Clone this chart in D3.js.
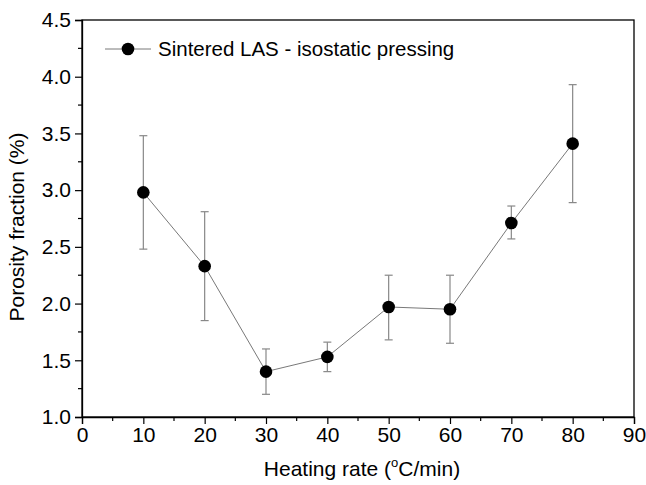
<!DOCTYPE html>
<html>
<head>
<meta charset="utf-8">
<script src="https://cdn.jsdelivr.net/npm/d3@7"></script>
<style>
  body { margin: 0; background: #fff; }
  text { font-family: "Liberation Sans", Arial, sans-serif; fill: #000; }
</style>
</head>
<body>
<svg id="chart" width="646" height="485"></svg>
<script>
// heating rate (°C/min) and porosity fraction (%)
const rates = [10, 20, 30, 40, 50, 60, 70, 80];
const porosity = [2.98, 2.33, 1.40, 1.53, 1.97, 1.95, 2.71, 3.41];
const errLow = [2.48, 1.85, 1.20, 1.40, 1.68, 1.65, 2.57, 2.89];
const errHigh = [3.48, 2.81, 1.60, 1.66, 2.25, 2.25, 2.86, 3.93];
const xTicks = [0, 10, 20, 30, 40, 50, 60, 70, 80, 90];
const yTicks = [1.0, 1.5, 2.0, 2.5, 3.0, 3.5, 4.0, 4.5];

const svg = d3.select("#chart");
const pLeft = 82, pRight = 634, pTop = 20, pBottom = 417;
const fs = "21px";

const x = d3.scaleLinear().domain([0, 90]).range([pLeft, pRight]);
const y = d3.scaleLinear().domain([1.0, 4.5]).range([pBottom, pTop]);

const data = rates.map((r, i) => ({ r: r, p: porosity[i], lo: errLow[i], hi: errHigh[i] }));

// frame
svg.append("rect")
  .attr("x", pLeft).attr("y", pTop)
  .attr("width", pRight - pLeft).attr("height", pBottom - pTop)
  .attr("fill", "none").attr("stroke", "#000").attr("stroke-width", 1.3);

// minor ticks
const xMinor = d3.range(5, 90, 10);
const yMinor = d3.range(1.25, 4.5, 0.5);
svg.append("g").selectAll("line").data(xMinor).join("line")
  .attr("x1", d => x(d)).attr("x2", d => x(d))
  .attr("y1", pBottom).attr("y2", pBottom + 4)
  .attr("stroke", "#000").attr("stroke-width", 1.2);
svg.append("g").selectAll("line").data(yMinor).join("line")
  .attr("x1", pLeft - 4).attr("x2", pLeft)
  .attr("y1", d => y(d)).attr("y2", d => y(d))
  .attr("stroke", "#000").attr("stroke-width", 1.2);

// axes
const xAxis = svg.append("g")
  .attr("transform", "translate(0," + pBottom + ")")
  .call(d3.axisBottom(x).tickValues(xTicks).tickSize(7).tickPadding(3).tickFormat(d3.format("d")));
const yAxis = svg.append("g")
  .attr("transform", "translate(" + pLeft + ",0)")
  .call(d3.axisLeft(y).tickValues(yTicks).tickSize(7).tickPadding(4).tickFormat(d3.format(".1f")));
[xAxis, yAxis].forEach(a => {
  a.attr("font-size", null).attr("font-family", null);
  a.select(".domain").attr("stroke-width", 1.3);
  a.selectAll(".tick line").attr("stroke-width", 1.2);
  a.selectAll("text").style("font-size", fs);
});

// connecting line
svg.append("path").datum(data)
  .attr("fill", "none").attr("stroke", "#555").attr("stroke-width", 0.8)
  .attr("d", d3.line().x(d => x(d.r)).y(d => y(d.p)));

// error bars
const eb = svg.append("g").attr("stroke", "#888").attr("stroke-width", 1.2);
eb.selectAll(".v").data(data).join("line")
  .attr("x1", d => x(d.r)).attr("x2", d => x(d.r))
  .attr("y1", d => y(d.lo)).attr("y2", d => y(d.hi));
eb.selectAll(".t").data(data).join("line")
  .attr("x1", d => x(d.r) - 4).attr("x2", d => x(d.r) + 4)
  .attr("y1", d => y(d.hi)).attr("y2", d => y(d.hi));
eb.selectAll(".b").data(data).join("line")
  .attr("x1", d => x(d.r) - 4).attr("x2", d => x(d.r) + 4)
  .attr("y1", d => y(d.lo)).attr("y2", d => y(d.lo));

// points
svg.append("g").selectAll("circle").data(data).join("circle")
  .attr("cx", d => x(d.r)).attr("cy", d => y(d.p)).attr("r", 6.3)
  .attr("fill", "#000");

// legend
const lg = svg.append("g").attr("transform", "translate(105,49)");
lg.append("line").attr("x1", 0).attr("x2", 46).attr("y1", 0).attr("y2", 0)
  .attr("stroke", "#555").attr("stroke-width", 0.8);
lg.append("circle").attr("cx", 23).attr("cy", 0).attr("r", 6.3).attr("fill", "#000");
lg.append("text").attr("x", 53).attr("y", 7).style("font-size", "20.5px")
  .text("Sintered LAS - isostatic pressing");

// axis titles
const xt = svg.append("text").attr("x", 362).attr("y", 476)
  .attr("text-anchor", "middle").style("font-size", fs);
xt.append("tspan").text("Heating rate (");
xt.append("tspan").style("font-size", "13px").attr("dy", -9).text("o");
xt.append("tspan").attr("dy", 9).text("C/min)");

svg.append("text")
  .attr("transform", "translate(24,227) rotate(-90)")
  .attr("text-anchor", "middle").style("font-size", fs)
  .text("Porosity fraction (%)");
</script>
</body>
</html>
